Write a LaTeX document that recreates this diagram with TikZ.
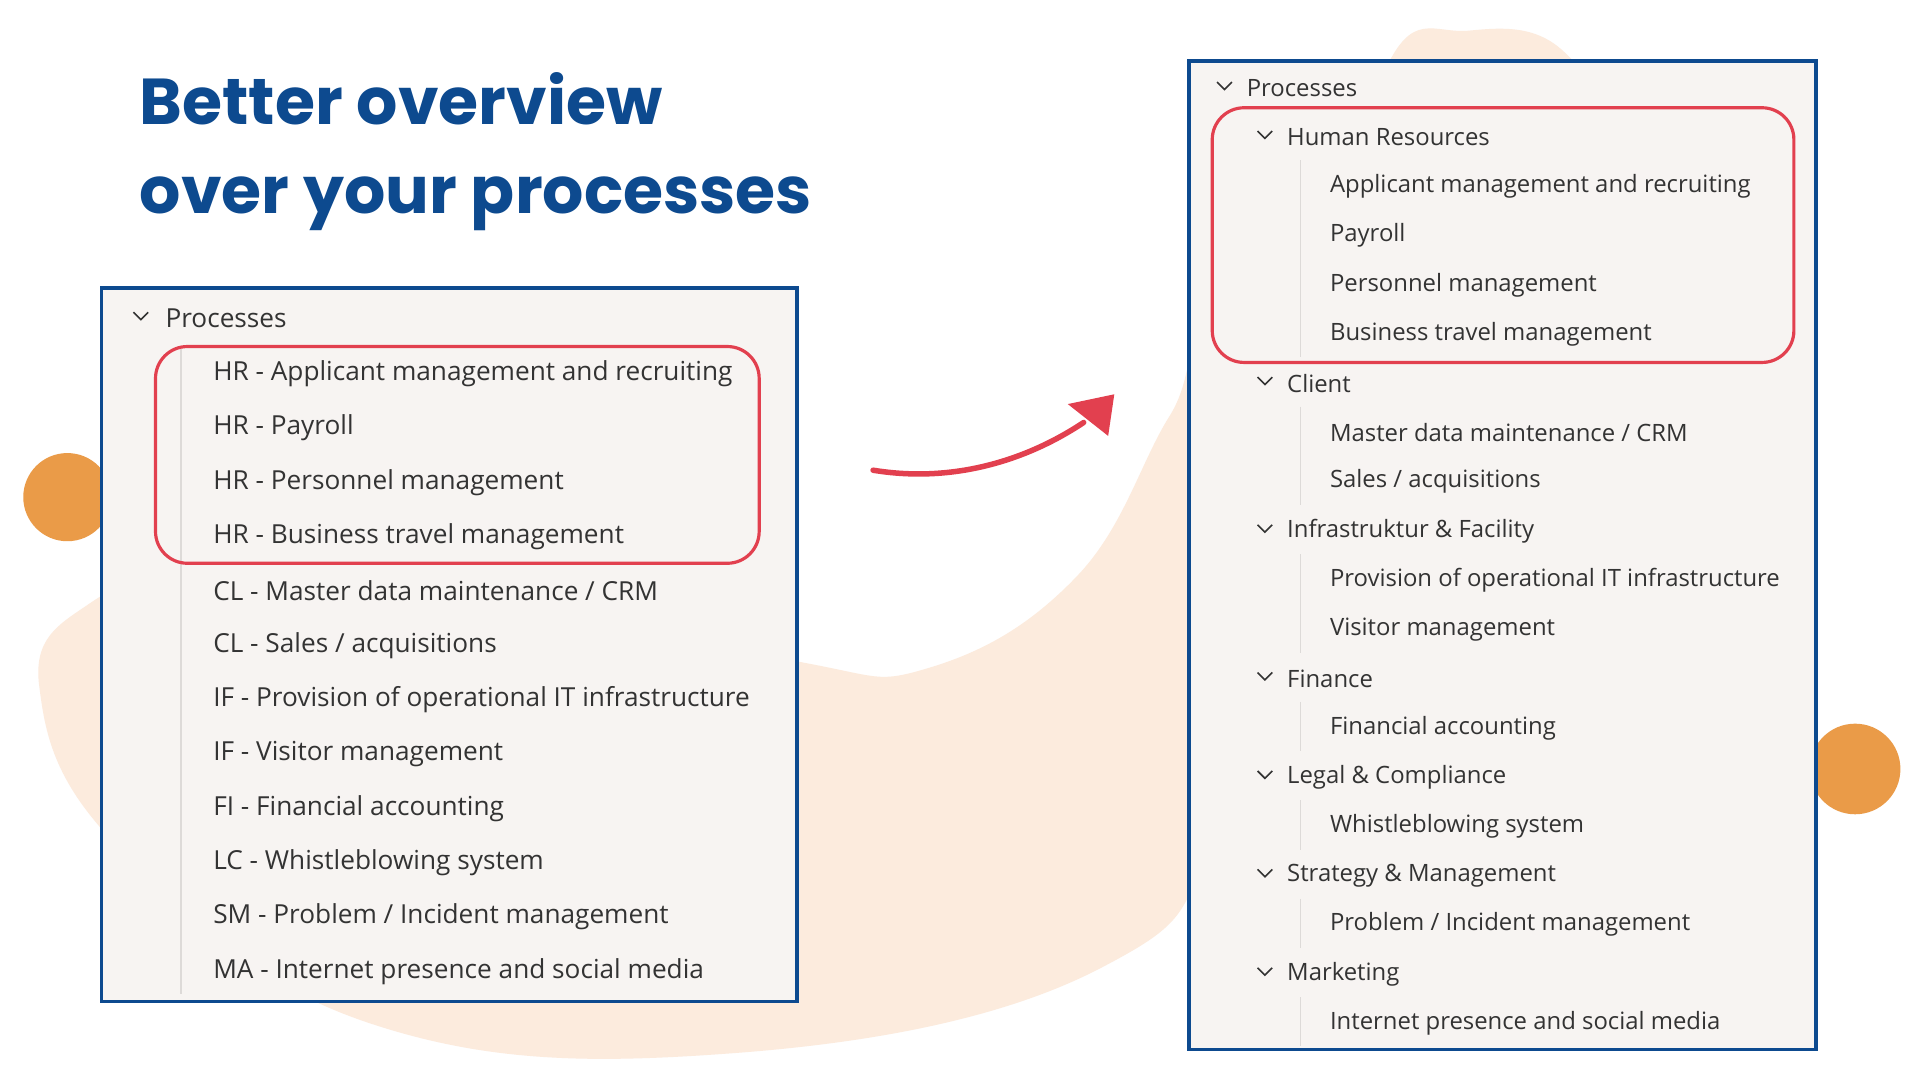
\documentclass[tikz,border=0pt]{standalone}
\usepackage{fontspec}
\setmainfont{Open Sans}
\newfontfamily\titlefont{Poppins}
\definecolor{navy}{HTML}{0D4A8F}
\definecolor{peach}{HTML}{FCEBDD}
\definecolor{orng}{HTML}{EA9B48}
\definecolor{rd}{HTML}{E2404F}
\definecolor{panel}{HTML}{F7F4F2}
\definecolor{guide}{HTML}{DDDAD8}
\definecolor{txt}{HTML}{333333}
\begin{document}
\begin{tikzpicture}[x=1pt,y=-1pt,
  panelbox/.style={draw=navy,line width=3pt,fill=panel},
  hibox/.style={draw=rd,line width=2.6pt,rounded corners=26pt},
  item/.style={anchor=west,inner sep=0pt,font=\fontsize{21.4}{24}\selectfont,text=txt},
  ritem/.style={anchor=west,inner sep=0pt,font=\fontsize{19.5}{24}\selectfont,text=txt},
  chev/.style={draw=txt,line width=1.3pt},
  guideline/.style={draw=guide,line width=1.5pt}]
\useasboundingbox (0,0) rectangle (1568,882);
\fill[white] (0,0) rectangle (1568,882);
% blob
\fill[peach] plot[smooth cycle,tension=0.7] coordinates{
 (70,495) (32,560) (95,690) (300,835) (600,860) (900,790) (1000,650)
 (1080,300) (1130,60) (1200,25) (1280,45) (1320,150) (1150,400)
 (1000,280) (955,340) (880,470) (760,545) (650,540) (400,480) (150,480)};
\fill[orng] (55,406) circle (36);
\fill[orng] (1515,628) circle (37);
% title
\node[anchor=base west,inner sep=0pt,text=navy,font=\titlefont\bfseries\fontsize{53}{60}\selectfont] (t1) at (114,102) {Better overview};
\node[anchor=base west,inner sep=0pt,text=navy,font=\titlefont\bfseries\fontsize{53}{60}\selectfont] (t2) at (114,174) {over your processes};
% left panel
\draw[panelbox] (83,235) rectangle (651,818);
\draw[guideline] (148,285) -- (148,812);
\draw[chev] (109,255) -- (115,261) -- (121,255);
\node[item] (lp) at (135,260) {Processes};
\foreach \t [count=\i from 0] in {HR - Applicant management and recruiting,HR - Payroll,HR - Personnel management,HR - Business travel management,CL - Master data maintenance / CRM,CL - Sales / acquisitions,IF - Provision of operational IT infrastructure,IF - Visitor management,FI - Financial accounting,LC - Whistleblowing system,SM - Problem / Incident management,MA - Internet presence and social media}
  \node[item] (l\i) at (174,305+44.4*\i) {\t};
\draw[hibox] (127,283) rectangle (620,460);
% right panel
\draw[panelbox] (971,50) rectangle (1483,857);
\draw[chev] (994,67) -- (1000,73) -- (1006,67);
\node[ritem] (rp) at (1018,72) {Processes};
\def\rs{40.2}
\foreach \t/\k [count=\i from 1] in {Human Resources/g,Applicant management and recruiting/e,Payroll/e,Personnel management/e,Business travel management/e,Client/g,{Master data maintenance / CRM}/e,{Sales / acquisitions}/e,Infrastruktur \& Facility/g,Provision of operational IT infrastructure/e,Visitor management/e,Finance/g,Financial accounting/e,Legal \& Compliance/g,Whistleblowing system/e,Strategy \& Management/g,{Problem / Incident management}/e,Marketing/g,Internet presence and social media/e}{
  \if\k g
    \draw[chev] (1027,107+\rs*\i-\rs) -- (1033,113+\rs*\i-\rs) -- (1039,107+\rs*\i-\rs);
    \node[ritem] (r\i) at (1051,112+\rs*\i-\rs) {\t};
  \else
    \draw[guideline] (1062,131+\rs*\i-2*\rs) -- (1062,131+\rs*\i-\rs);
    \node[ritem] (r\i) at (1086,112+\rs*\i-\rs) {\t};
  \fi}
\draw[hibox] (990,88) rectangle (1465,296);
% arrow
\coordinate (a0) at (713,384);
\coordinate (a1) at (908,326);
\draw[rd,line width=4.5pt,line cap=round] (a0) .. controls (780,395) and (840,375) .. (885,345);
\fill[rd] (910,322) -- (905,356) -- (872,330) -- cycle;
\end{tikzpicture}
\end{document}
